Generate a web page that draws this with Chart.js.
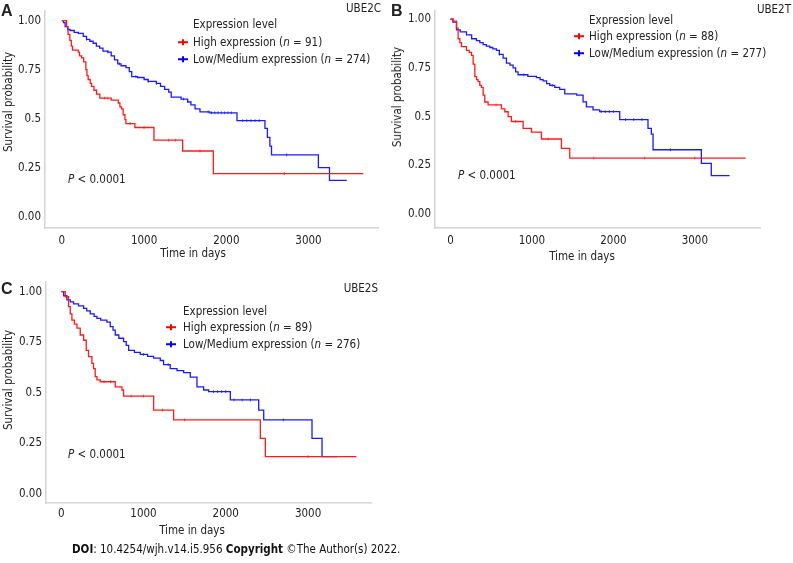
<!DOCTYPE html>
<html>
<head>
<meta charset="utf-8">
<script src="https://cdn.jsdelivr.net/npm/chart.js@4.4.1/dist/chart.umd.min.js"></script>
<style>
  body { margin: 0; background: #fff; font-family: 'DejaVu Sans Condensed', 'DejaVu Sans', sans-serif; color: #222; }
  #wrap { position: relative; width: 793px; height: 563px; overflow: hidden; }
  canvas { position: absolute; }
  .t { position: absolute; white-space: nowrap; font-size: 11.5px; transform: translateY(-50%); }
  .lab { position: absolute; font-family: 'Liberation Sans', Arial, sans-serif; font-weight: bold; font-size: 16px; transform: translateY(-50%); }
  .gene { position: absolute; font-size: 11.5px; transform: translate(-100%, -50%); }
  .xt { position: absolute; font-size: 11.5px; transform: translate(-50%, -50%); white-space: nowrap; }
  .yt { position: absolute; font-size: 11.5px; transform: translate(-50%, -50%) rotate(-90deg); white-space: nowrap; }
  .mk { position: absolute; width: 10px; height: 1.5px; transform: translateY(-50%); }
  .mk::after { content: ''; position: absolute; left: 4.2px; top: -2.3px; width: 1.5px; height: 6px; background: inherit; }
  .foot { position: absolute; left: 72px; top: 549px; font-size: 11.5px; transform: translateY(-50%); white-space: nowrap; color: #111; }
</style>
</head>
<body>
<div id="wrap">
  <canvas id="cA" width="390" height="265" style="left:0;top:0"></canvas>
  <canvas id="cB" width="390" height="265" style="left:390px;top:0"></canvas>
  <canvas id="cC" width="390" height="265" style="left:0;top:270px"></canvas>

  <div class="lab" style="left:1px;top:11px">A</div>
  <div class="gene" style="left:381px;top:8px">UBE2C</div>
  <div class="t" style="left:193px;top:24px">Expression level</div>
  <div class="mk" style="left:178px;top:42px;background:#f00"></div>
  <div class="t" style="left:193px;top:42px">High expression (<i>n</i> = 91)</div>
  <div class="mk" style="left:178px;top:59px;background:#00f"></div>
  <div class="t" style="left:193px;top:59px">Low/Medium expression (<i>n</i> = 274)</div>
  <div class="t" style="left:68px;top:179px"><i>P</i> &lt; 0.0001</div>
  <div class="xt" style="left:193px;top:253px">Time in days</div>
  <div class="yt" style="left:8px;top:102px">Survival probability</div>

  <div class="lab" style="left:391px;top:11px">B</div>
  <div class="gene" style="left:791px;top:9px">UBE2T</div>
  <div class="t" style="left:589px;top:20px">Expression level</div>
  <div class="mk" style="left:574px;top:36px;background:#f00"></div>
  <div class="t" style="left:589px;top:36px">High expression (<i>n</i> = 88)</div>
  <div class="mk" style="left:574px;top:53px;background:#00f"></div>
  <div class="t" style="left:589px;top:53px">Low/Medium expression (<i>n</i> = 277)</div>
  <div class="t" style="left:458px;top:175px"><i>P</i> &lt; 0.0001</div>
  <div class="xt" style="left:582px;top:256px">Time in days</div>
  <div class="yt" style="left:397px;top:97px">Survival probability</div>

  <div class="lab" style="left:1px;top:289px">C</div>
  <div class="gene" style="left:378px;top:288px">UBE2S</div>
  <div class="t" style="left:183px;top:311px">Expression level</div>
  <div class="mk" style="left:166px;top:327px;background:#f00"></div>
  <div class="t" style="left:183px;top:327px">High expression (<i>n</i> = 89)</div>
  <div class="mk" style="left:166px;top:344px;background:#00f"></div>
  <div class="t" style="left:183px;top:344px">Low/Medium expression (<i>n</i> = 276)</div>
  <div class="t" style="left:68px;top:454px"><i>P</i> &lt; 0.0001</div>
  <div class="xt" style="left:192px;top:530px">Time in days</div>
  <div class="yt" style="left:8px;top:380px">Survival probability</div>

  <div class="foot"><b>DOI</b>: 10.4254/wjh.v14.i5.956 <b>Copyright</b> ©The Author(s) 2022.</div>
</div>

<script>
// tick labels
const xTicks = [0, 1000, 2000, 3000];
const yTicks = [0, 0.25, 0.5, 0.75, 1];
const yTickLabels = ['0.00', '0.25', '0.5', '0.75', '1.00'];

// A - UBE2C
const aHighT = [0, 57, 75, 97, 115, 130, 200, 215, 240, 265, 292, 305, 320, 345, 361, 390, 422, 462, 600, 686, 706, 726, 745, 767, 779, 888, 1120, 1469, 1842, 3665];
const aHighS = [1, 0.97, 0.93, 0.90, 0.87, 0.85, 0.84, 0.82, 0.81, 0.79, 0.75, 0.72, 0.70, 0.68, 0.665, 0.645, 0.625, 0.605, 0.595, 0.58, 0.56, 0.55, 0.52, 0.495, 0.475, 0.455, 0.39, 0.335, 0.22, 0.22];
const aHighCens = [520, 560, 830, 1000, 1300, 1380, 1680, 2705];
const aLowT = [0, 20, 40, 70, 100, 150, 200, 260, 300, 340, 380, 420, 460, 500, 560, 600, 640, 680, 720, 780, 820, 850, 920, 1000, 1050, 1150, 1200, 1250, 1300, 1330, 1450, 1530, 1570, 1620, 1680, 1800, 2130, 2470, 2500, 2530, 2550, 3120, 3255, 3465];
const aLowS = [1, 0.99, 0.97, 0.955, 0.95, 0.94, 0.935, 0.92, 0.905, 0.895, 0.885, 0.87, 0.86, 0.845, 0.84, 0.82, 0.80, 0.78, 0.77, 0.76, 0.74, 0.715, 0.71, 0.70, 0.69, 0.68, 0.665, 0.65, 0.635, 0.61, 0.60, 0.585, 0.57, 0.55, 0.535, 0.53, 0.49, 0.45, 0.405, 0.36, 0.315, 0.25, 0.185, 0.185];
const aLowCens = [300, 560, 700, 900, 1050, 1150, 1480, 1780, 1820, 1860, 1900, 1940, 1980, 2020, 2060, 2200, 2250, 2300, 2350, 2400, 2734];

// B - UBE2T
const bHighT = [0, 33, 74, 94, 115, 135, 196, 230, 258, 278, 299, 320, 339, 360, 380, 401, 421, 462, 626, 667, 708, 748, 892, 994, 1117, 1362, 1464, 3624];
const bHighS = [1, 0.99, 0.955, 0.90, 0.88, 0.86, 0.84, 0.83, 0.815, 0.77, 0.705, 0.69, 0.68, 0.66, 0.65, 0.61, 0.575, 0.56, 0.54, 0.525, 0.50, 0.475, 0.44, 0.42, 0.385, 0.337, 0.287, 0.287];
const bHighCens = [560, 800, 1200, 1760, 2385, 3000];
const bLowT = [0, 30, 74, 120, 196, 260, 319, 360, 401, 440, 483, 520, 564, 600, 646, 687, 730, 769, 800, 830, 950, 1055, 1100, 1137, 1180, 1219, 1280, 1341, 1403, 1550, 1628, 1669, 1750, 1832, 2078, 2425, 2466, 2487, 3080, 3202, 3427];
const bLowS = [1, 0.985, 0.946, 0.935, 0.92, 0.90, 0.89, 0.88, 0.87, 0.862, 0.855, 0.848, 0.84, 0.82, 0.80, 0.775, 0.765, 0.75, 0.73, 0.715, 0.707, 0.70, 0.69, 0.684, 0.67, 0.66, 0.65, 0.64, 0.617, 0.61, 0.576, 0.55, 0.535, 0.526, 0.485, 0.44, 0.41, 0.33, 0.26, 0.197, 0.197];
const bLowCens = [600, 900, 1250, 1850, 1900, 1950, 2000, 2150, 2250, 2350, 2700];

// C - UBE2S
const cHighT = [0, 49, 89, 110, 130, 160, 191, 231, 272, 304, 332, 373, 393, 413, 434, 474, 657, 738, 758, 1123, 1366, 2420, 2481, 3587];
const cHighS = [1, 0.975, 0.926, 0.89, 0.86, 0.84, 0.82, 0.786, 0.76, 0.71, 0.679, 0.646, 0.62, 0.58, 0.564, 0.555, 0.53, 0.514, 0.484, 0.415, 0.366, 0.275, 0.185, 0.185];
const cHighCens = [520, 600, 850, 1000, 1230, 1500, 3000];
const cLowT = [0, 30, 69, 110, 150, 210, 272, 310, 353, 400, 434, 480, 555, 596, 630, 657, 700, 758, 790, 819, 890, 961, 1050, 1123, 1204, 1244, 1325, 1407, 1488, 1569, 1650, 1731, 1792, 2055, 2400, 2461, 3048, 3170, 3352];
const cLowS = [1, 0.98, 0.96, 0.95, 0.94, 0.93, 0.918, 0.905, 0.89, 0.878, 0.868, 0.86, 0.85, 0.827, 0.81, 0.786, 0.77, 0.753, 0.735, 0.71, 0.70, 0.69, 0.68, 0.672, 0.66, 0.64, 0.62, 0.61, 0.60, 0.578, 0.53, 0.514, 0.506, 0.465, 0.415, 0.366, 0.275, 0.185, 0.185];
const cLowCens = [1000, 1300, 1850, 1900, 1950, 2000, 2100, 2200, 2300, 2700];

const RED = '#ff1a1a';
const BLUE = '#1a1aff';
const tickFont = { family: "'DejaVu Sans Condensed', 'DejaVu Sans', sans-serif", size: 11.5 };

// value of the KM step curve at time t
function survAt(T, S, t) {
  let s = S[0];
  for (let i = 0; i < T.length; i++) { if (T[i] <= t) s = S[i]; }
  return s;
}

function curve(T, S, color) {
  return {
    type: 'line',
    data: T.map((t, i) => ({ x: t, y: S[i] })),
    borderColor: color,
    borderWidth: 1.3,
    pointRadius: 0,
    stepped: 'before',
    fill: false
  };
}

function censors(T, S, cens, color) {
  return {
    type: 'scatter',
    data: cens.map(t => ({ x: t, y: survAt(T, S, t) })),
    borderColor: color,
    borderWidth: 0.8,
    pointStyle: 'line',
    rotation: 90,
    pointRadius: 1.4,
    showLine: false
  };
}

function makePanel(id, p) {
  const ctx = document.getElementById(id).getContext('2d');
  return new Chart(ctx, {
    data: {
      datasets: [
        curve(p.highT, p.highS, RED),
        censors(p.highT, p.highS, p.highCens, RED),
        curve(p.lowT, p.lowS, BLUE),
        censors(p.lowT, p.lowS, p.lowCens, BLUE)
      ]
    },
    options: {
      responsive: false,
      animation: false,
      layout: { padding: { top: p.padTop, right: p.padRight, left: 0, bottom: 0 } },
      plugins: { legend: { display: false }, tooltip: { enabled: false } },
      scales: {
        x: {
          type: 'linear',
          min: p.xMin, max: p.xMax,
          border: { color: '#d4d4d4', width: 1.5 },
          grid: { display: false, drawTicks: false },
          ticks: { font: tickFont, color: '#222', padding: p.xPad, maxRotation: 0, callback: v => String(v) },
          afterBuildTicks: s => { s.ticks = xTicks.map(v => ({ value: v })); },
          afterFit: s => { s.height = p.xH; }
        },
        y: {
          type: 'linear',
          min: p.yMin, max: p.yMax,
          border: { color: '#d4d4d4', width: 1.5 },
          grid: { display: false, drawTicks: false },
          ticks: {
            font: tickFont, color: '#222', padding: 4,
            callback: v => yTickLabels[yTicks.indexOf(v)]
          },
          afterBuildTicks: s => { s.ticks = yTicks.map(v => ({ value: v })); },
          afterFit: s => { s.width = p.yW; }
        }
      }
    }
  });
}

makePanel('cA', {
  highT: aHighT, highS: aHighS, highCens: aHighCens,
  lowT: aLowT, lowS: aLowS, lowCens: aLowCens,
  xMin: -205, xMax: 3845, yMin: -0.058, yMax: 1.05,
  padTop: 2, padRight: 12, xH: 37, yW: 45, xPad: 6
});
makePanel('cB', {
  highT: bHighT, highS: bHighS, highCens: bHighCens,
  lowT: bLowT, lowS: bLowS, lowCens: bLowCens,
  xMin: -190, xMax: 3800, yMin: -0.072, yMax: 1.043,
  padTop: 2, padRight: 20, xH: 37, yW: 45, xPad: 6
});
makePanel('cC', {
  highT: cHighT, highS: cHighS, highCens: cHighCens,
  lowT: cLowT, lowS: cLowS, lowCens: cLowCens,
  xMin: -185, xMax: 3765, yMin: -0.0445, yMax: 1.048,
  padTop: 12, padRight: 19, xH: 32, yW: 46, xPad: 4
});
</script>
</body>
</html>
